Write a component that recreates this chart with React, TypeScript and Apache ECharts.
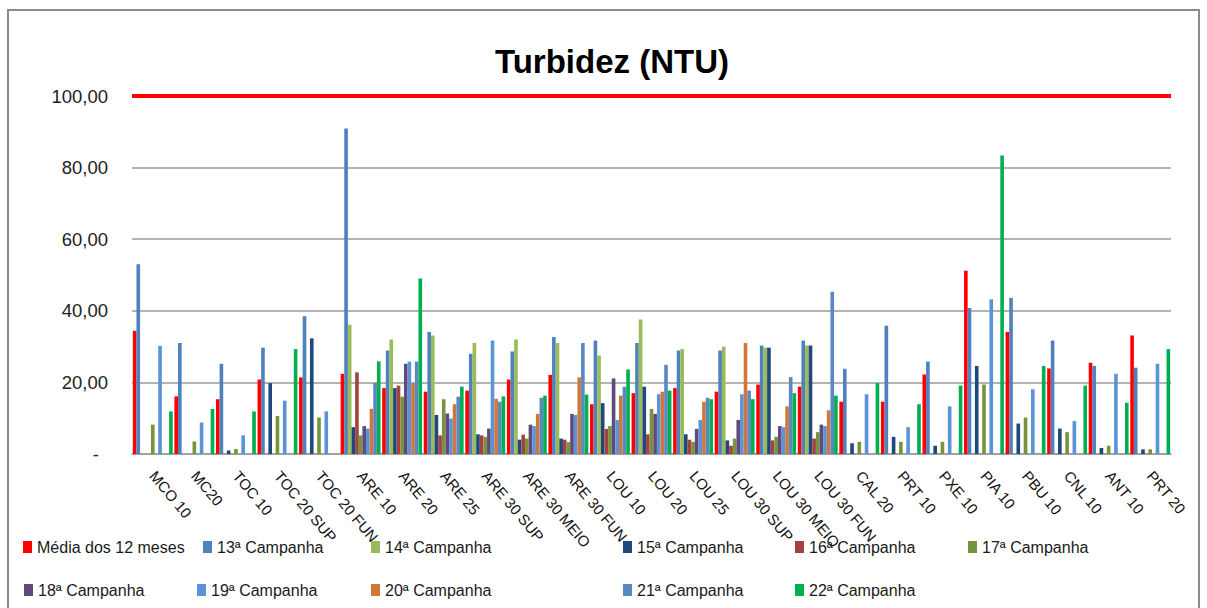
import React, { useEffect, useRef } from "react";
import * as echarts from "echarts";

const categories = ["MCO 10","MC20","TOC 10","TOC 20 SUP","TOC 20 FUN","ARE 10","ARE 20","ARE 25","ARE 30 SUP","ARE 30 MEIO","ARE 30 FUN","LOU 10","LOU 20","LOU 25","LOU 30 SUP","LOU 30 MEIO","LOU 30 FUN","CAL 20","PRT 10","PXE 10","PIA 10","PBU 10","CNL 10","ANT 10","PRT 20"];

const media12 = [34.4,16.1,15.3,20.8,21.4,22.4,18.4,17.4,17.7,20.8,22.1,13.9,17.0,18.4,17.4,19.4,18.8,14.6,14.6,22.2,51.2,34.1,23.9,25.5,33.1];
const camp13 = [53.0,31.0,25.2,29.7,38.5,90.9,28.9,34.1,28.0,28.6,32.7,31.7,31.0,28.9,28.9,30.3,31.7,23.8,35.8,25.8,40.8,43.6,31.7,24.6,24.1];
const camp14 = [null,null,null,null,null,36.1,32.0,33.1,31.0,32.0,31.0,27.5,37.6,29.3,30.0,29.7,30.3,null,null,null,null,null,null,null,null];
const camp15 = [null,null,1.0,19.8,32.3,7.5,18.4,10.9,5.5,4.0,4.3,14.2,18.8,5.5,3.8,29.7,30.3,3.0,4.8,2.3,24.6,8.5,7.1,1.7,1.3];
const camp16 = [null,null,null,null,null,22.8,19.1,5.2,5.2,5.4,4.0,7.0,5.5,4.0,2.3,3.8,4.3,null,null,null,null,null,null,null,null];
const camp17 = [8.2,3.5,1.4,10.6,10.2,5.2,16.0,15.3,4.8,4.3,3.3,7.8,12.6,3.4,4.3,4.8,6.1,3.4,3.4,3.4,19.4,10.2,6.1,2.3,1.3];
const camp18 = [null,null,null,null,null,7.8,25.2,11.3,7.1,8.2,11.2,21.1,11.2,7.0,9.5,7.8,8.2,null,null,null,null,null,null,null,null];
const camp19 = [30.2,8.8,5.2,14.9,11.9,7.1,25.8,9.9,31.7,7.8,10.9,9.5,16.7,9.5,16.7,7.5,7.8,16.7,7.5,13.3,43.2,18.1,9.2,22.4,25.2];
const camp20 = [null,null,null,null,null,12.6,19.8,13.9,15.4,11.2,21.4,16.3,17.4,14.6,31.0,13.3,12.2,null,null,null,null,null,null,null,null];
const camp21 = [null,null,null,null,null,19.8,25.8,16.0,14.6,15.7,31.0,18.8,24.9,15.7,17.7,21.5,45.3,null,null,null,null,null,null,null,null];
const camp22 = [11.9,12.6,11.9,29.3,null,25.9,49.0,18.8,16.1,16.3,16.6,23.6,17.7,15.3,15.3,17.0,16.3,19.8,13.9,19.1,83.4,24.6,19.1,14.3,29.3];

const limitValue = 100;
const yTicks = [0, 20, 40, 60, 80, 100];

const seriesNames = ["Média dos 12 meses","13ª Campanha","14ª Campanha","15ª Campanha","16ª Campanha","17ª Campanha","18ª Campanha","19ª Campanha","20ª Campanha","21ª Campanha","22ª Campanha"];
const seriesData = [media12, camp13, camp14, camp15, camp16, camp17, camp18, camp19, camp20, camp21, camp22];
const seriesColors = ["#FF0000","#4F81BD","#9BBB59","#1F497D","#A3423F","#77933C","#604A7B","#5B93D8","#D0783A","#5A88C2","#00B050"];

// legend placement (layout only)
const legendPos = [
  [23, 548],[203, 548],[371, 548],[623, 548],[795, 548],[968, 548],
  [24, 591],[197, 591],[371, 591],[623, 591],[795, 591],
];

const FONT = "'Liberation Sans Narrow', 'Arial Narrow', 'Liberation Sans', Arial, sans-serif";

export default function App() {
  const ref = useRef<HTMLDivElement>(null);
  useEffect(() => {
    document.body.style.margin = "0";
    document.body.style.overflow = "hidden";
    const chart = echarts.init(ref.current!, null, { renderer: "svg" });
    const series: any[] = seriesNames.map((name, i) => ({
      name,
      type: "bar",
      data: seriesData[i],
      itemStyle: { color: seriesColors[i] },
      barGap: "0%",
      barCategoryGap: "4%",
      emphasis: { disabled: true },
      ...(i === 0
        ? {
            markLine: {
              silent: true,
              symbol: ["none", "none"],
              label: { show: false },
              lineStyle: { color: "#FF0000", width: 4, type: "solid" },
              data: [{ yAxis: limitValue }],
            },
          }
        : {}),
    }));
    const legends = seriesNames.map((name, i) => ({
      data: [name],
      left: legendPos[i][0],
      top: legendPos[i][1] - 9,
      padding: 0,
      itemWidth: 9,
      itemHeight: 12,
      icon: "rect",
      textStyle: { fontFamily: FONT, fontSize: 16, color: "#1a1a1a" },
    }));
    chart.setOption({
      animation: false,
      backgroundColor: "#ffffff",
      title: {
        text: "Turbidez (NTU)",
        left: 607,
        textAlign: "center",
        top: 40,
        textStyle: { fontFamily: FONT, fontSize: 33, fontWeight: "bold", color: "#000" },
      },
      legend: legends,
      grid: { left: 132, right: 36, top: 96, bottom: 154, containLabel: false },
      xAxis: {
        type: "category",
        data: categories,
        axisLine: { lineStyle: { color: "#9a9a9a", width: 1.5 } },
        axisTick: { show: false },
        axisLabel: {
          rotate: -50,
          interval: 0,
          margin: 19,
          fontFamily: FONT,
          fontSize: 15,
          color: "#111",
        },
      },
      yAxis: {
        type: "value",
        min: yTicks[0],
        max: yTicks[yTicks.length - 1],
        interval: 20,
        axisLine: { show: false },
        axisTick: { show: false },
        splitLine: { lineStyle: { color: "#9a9a9a", width: 1.5 } },
        axisLabel: {
          margin: 24,
          fontFamily: FONT,
          fontSize: 18.5,
          color: "#222",
          formatter: (v: number) => (v === 0 ? "{d|-}" : v.toFixed(2).replace(".", ",")),
          rich: { d: { fontFamily: FONT, fontSize: 18.5, color: "#222", padding: [0, 9, 0, 0] } },
        },
      },
      graphic: [
        {
          type: "rect",
          shape: { x: 8, y: 10, width: 1191, height: 700 },
          style: { fill: "none", stroke: "#8c8c8c", lineWidth: 2 },
          silent: true,
        },
      ],
      series,
    });
    return () => chart.dispose();
  }, []);
  return <div ref={ref} style={{ width: 1207, height: 608 }} />;
}
